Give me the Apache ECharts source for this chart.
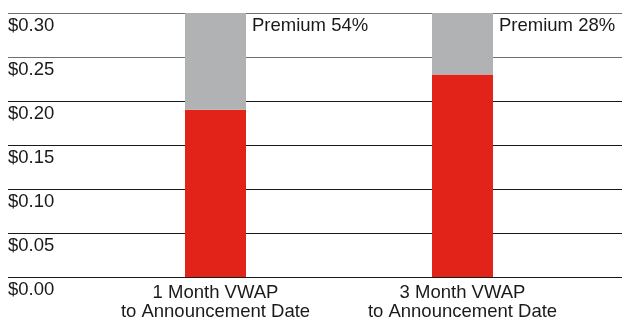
<!DOCTYPE html>
<html>
<head>
<meta charset="utf-8">
<script src="https://cdn.jsdelivr.net/npm/echarts@6/dist/echarts.min.js"></script>
<style>
  html, body { margin: 0; padding: 0; background: #fff; }
  #chart { width: 622px; height: 322px; }
</style>
</head>
<body>
<div id="chart"></div>
<script>
var categories = ['1 Month VWAP\nto Announcement Date', '3 Month VWAP\nto Announcement Date'];
var vwapValues = [0.19, 0.23];          // red part
var premiumValues = [0.11, 0.07];       // grey part on top
var premiumLabels = ['Premium 54%', 'Premium 28%'];
var yTicks = { min: 0, max: 0.30, interval: 0.05 };

var chart = echarts.init(document.getElementById('chart'), null, { renderer: 'canvas' });
var font = "'Liberation Sans', Arial, sans-serif";

var option = {
    animation: false,
    backgroundColor: '#fff',
    textStyle: { fontFamily: font },
    grid: [
        { left: 8, right: 0, top: 13, bottom: 45, outerBoundsMode: 'none' },   // gridlines + $ labels
        { left: 92, right: 36, top: 13, bottom: 45, outerBoundsMode: 'none' }  // bars
    ],
    xAxis: [{
        gridIndex: 0,
        type: 'value',
        min: 0,
        max: 1,
        show: false
    }, {
        gridIndex: 1,
        type: 'category',
        data: categories,
        axisLine: { show: false },
        axisTick: { show: false },
        axisLabel: {
            interval: 0,
            hideOverlap: false,
            margin: 6,
            fontSize: 18.5,
            lineHeight: 19.5,
            color: '#1a1a1a',
            fontFamily: font,
            align: 'center'
        }
    }],
    yAxis: [{
        gridIndex: 0,
        type: 'value',
        min: yTicks.min,
        max: yTicks.max,
        interval: yTicks.interval,
        axisLine: { show: false },
        axisTick: { show: false },
        splitLine: {
            show: true,
            lineStyle: {
                color: ['#1a1a1a', '#1a1a1a', '#1a1a1a', '#1a1a1a', '#1a1a1a', '#6f6f6f', '#6f6f6f'],
                width: 1
            }
        },
        axisLabel: {
            inside: true,
            margin: 0,
            align: 'left',
            verticalAlign: 'top',
            padding: [4, 0, 0, 0],
            lineHeight: 18,
            fontSize: 18.5,
            color: '#1a1a1a',
            fontFamily: font,
            formatter: function (v) { return '$' + v.toFixed(2); }
        }
    }, {
        gridIndex: 1,
        type: 'value',
        min: yTicks.min,
        max: yTicks.max,
        interval: yTicks.interval,
        show: false
    }],
    series: [{
        name: 'VWAP',
        type: 'bar',
        xAxisIndex: 1,
        yAxisIndex: 1,
        stack: 'price',
        barWidth: 61,
        itemStyle: { color: '#e2231a' },
        data: vwapValues
    }, {
        name: 'Premium',
        type: 'bar',
        xAxisIndex: 1,
        yAxisIndex: 1,
        stack: 'price',
        barWidth: 61,
        itemStyle: { color: '#b1b2b4' },
        label: {
            show: true,
            position: ['100%', 0],
            align: 'left',
            verticalAlign: 'top',
            padding: [4, 0, 0, 6],
            lineHeight: 18,
            fontSize: 18.5,
            color: '#1a1a1a',
            fontFamily: font,
            formatter: function (p) { return premiumLabels[p.dataIndex]; }
        },
        data: premiumValues
    }]
};

chart.setOption(option);
</script>
</body>
</html>
